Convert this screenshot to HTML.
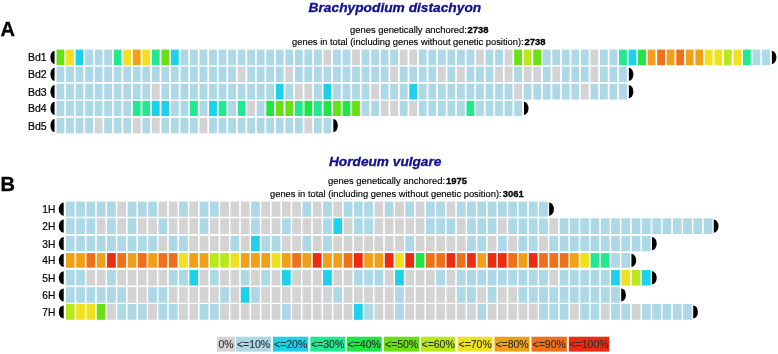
<!DOCTYPE html><html><head><meta charset="utf-8"><title>Figure</title><style>
html,body{margin:0;padding:0;background:#fff}svg{display:block}
text{font-family:"Liberation Sans",Arial,sans-serif;fill:#000}
.t{font-size:13px;font-weight:bold;font-style:italic;fill:#10108c;stroke:#10108c;stroke-width:.3px}
.s{font-size:9.7px;stroke:#000;stroke-width:.15px}.b{font-weight:bold;stroke-width:.3px}
.l{font-size:10.5px;stroke:#000;stroke-width:.2px}.p{font-size:20px;font-weight:bold;stroke:#000;stroke-width:.35px}.g{font-size:10px;fill:#303030;stroke:#303030;stroke-width:.12px}
</style></head><body>
<svg width="778" height="354" viewBox="0 0 778 354">
<rect width="778" height="354" fill="#fff"/>
<text class="p" x="0.6" y="35.7">A</text>
<text class="p" x="0.6" y="191.3">B</text>
<text class="t" x="308.6" y="11.5" textLength="172.6" lengthAdjust="spacingAndGlyphs">Brachypodium distachyon</text>
<text class="s" x="350.0" y="32.7" textLength="116.9" lengthAdjust="spacingAndGlyphs">genes genetically anchored:</text>
<text class="s b" x="467.4" y="32.7" textLength="21.1" lengthAdjust="spacingAndGlyphs">2738</text>
<text class="s" x="292.1" y="45.0" textLength="231.6" lengthAdjust="spacingAndGlyphs">genes in total (including genes without genetic position):</text>
<text class="s b" x="524.4" y="45.0" textLength="21.1" lengthAdjust="spacingAndGlyphs">2738</text>
<text class="s" x="328.1" y="184.3" textLength="116.9" lengthAdjust="spacingAndGlyphs">genes genetically anchored:</text>
<text class="s b" x="446.0" y="184.3" textLength="21.1" lengthAdjust="spacingAndGlyphs">1975</text>
<text class="s" x="270.0" y="197.1" textLength="231.6" lengthAdjust="spacingAndGlyphs">genes in total (including genes without genetic position):</text>
<text class="s b" x="502.8" y="197.1" textLength="21.1" lengthAdjust="spacingAndGlyphs">3061</text>
<text class="t" x="329" y="165.7" textLength="112.4" lengthAdjust="spacingAndGlyphs">Hordeum vulgare</text>
<text class="l" x="46.7" y="61.3" text-anchor="end">Bd1</text>
<path d="M54.55 50.85 A4.1 6.5 0 0 0 54.55 63.95 Z" fill="#000"/>
<rect x="56.55" y="49.60" width="7.80" height="15.60" fill="#66e214"/>
<rect x="66.08" y="49.60" width="7.80" height="15.60" fill="#f0e020"/>
<rect x="75.62" y="49.60" width="7.80" height="15.60" fill="#1cd2ea"/>
<rect x="85.15" y="49.60" width="7.80" height="15.60" fill="#add8e6"/>
<rect x="94.69" y="49.60" width="7.80" height="15.60" fill="#add8e6"/>
<rect x="104.22" y="49.60" width="7.80" height="15.60" fill="#add8e6"/>
<rect x="113.75" y="49.60" width="7.80" height="15.60" fill="#22e890"/>
<rect x="123.29" y="49.60" width="7.80" height="15.60" fill="#f0e020"/>
<rect x="132.82" y="49.60" width="7.80" height="15.60" fill="#f0a018"/>
<rect x="142.36" y="49.60" width="7.80" height="15.60" fill="#f0e020"/>
<rect x="151.89" y="49.60" width="7.80" height="15.60" fill="#22e890"/>
<rect x="161.42" y="49.60" width="7.80" height="15.60" fill="#66e214"/>
<rect x="170.96" y="49.60" width="7.80" height="15.60" fill="#1cd2ea"/>
<rect x="180.49" y="49.60" width="7.80" height="15.60" fill="#add8e6"/>
<rect x="190.03" y="49.60" width="7.80" height="15.60" fill="#add8e6"/>
<rect x="199.56" y="49.60" width="7.80" height="15.60" fill="#add8e6"/>
<rect x="209.09" y="49.60" width="7.80" height="15.60" fill="#add8e6"/>
<rect x="218.63" y="49.60" width="7.80" height="15.60" fill="#add8e6"/>
<rect x="228.16" y="49.60" width="7.80" height="15.60" fill="#add8e6"/>
<rect x="237.70" y="49.60" width="7.80" height="15.60" fill="#add8e6"/>
<rect x="247.23" y="49.60" width="7.80" height="15.60" fill="#add8e6"/>
<rect x="256.76" y="49.60" width="7.80" height="15.60" fill="#add8e6"/>
<rect x="266.30" y="49.60" width="7.80" height="15.60" fill="#add8e6"/>
<rect x="275.83" y="49.60" width="7.80" height="15.60" fill="#add8e6"/>
<rect x="285.37" y="49.60" width="7.80" height="15.60" fill="#add8e6"/>
<rect x="294.90" y="49.60" width="7.80" height="15.60" fill="#add8e6"/>
<rect x="304.43" y="49.60" width="7.80" height="15.60" fill="#add8e6"/>
<rect x="313.97" y="49.60" width="7.80" height="15.60" fill="#add8e6"/>
<rect x="323.50" y="49.60" width="7.80" height="15.60" fill="#d3d3d3"/>
<rect x="333.04" y="49.60" width="7.80" height="15.60" fill="#add8e6"/>
<rect x="342.57" y="49.60" width="7.80" height="15.60" fill="#add8e6"/>
<rect x="352.10" y="49.60" width="7.80" height="15.60" fill="#d3d3d3"/>
<rect x="361.64" y="49.60" width="7.80" height="15.60" fill="#add8e6"/>
<rect x="371.17" y="49.60" width="7.80" height="15.60" fill="#add8e6"/>
<rect x="380.71" y="49.60" width="7.80" height="15.60" fill="#add8e6"/>
<rect x="390.24" y="49.60" width="7.80" height="15.60" fill="#add8e6"/>
<rect x="399.77" y="49.60" width="7.80" height="15.60" fill="#d3d3d3"/>
<rect x="409.31" y="49.60" width="7.80" height="15.60" fill="#d3d3d3"/>
<rect x="418.84" y="49.60" width="7.80" height="15.60" fill="#add8e6"/>
<rect x="428.38" y="49.60" width="7.80" height="15.60" fill="#add8e6"/>
<rect x="437.91" y="49.60" width="7.80" height="15.60" fill="#add8e6"/>
<rect x="447.44" y="49.60" width="7.80" height="15.60" fill="#add8e6"/>
<rect x="456.98" y="49.60" width="7.80" height="15.60" fill="#add8e6"/>
<rect x="466.51" y="49.60" width="7.80" height="15.60" fill="#add8e6"/>
<rect x="476.05" y="49.60" width="7.80" height="15.60" fill="#d3d3d3"/>
<rect x="485.58" y="49.60" width="7.80" height="15.60" fill="#add8e6"/>
<rect x="495.11" y="49.60" width="7.80" height="15.60" fill="#add8e6"/>
<rect x="504.65" y="49.60" width="7.80" height="15.60" fill="#d3d3d3"/>
<rect x="514.18" y="49.60" width="7.80" height="15.60" fill="#66e214"/>
<rect x="523.72" y="49.60" width="7.80" height="15.60" fill="#b8e818"/>
<rect x="533.25" y="49.60" width="7.80" height="15.60" fill="#66e214"/>
<rect x="542.78" y="49.60" width="7.80" height="15.60" fill="#add8e6"/>
<rect x="552.32" y="49.60" width="7.80" height="15.60" fill="#add8e6"/>
<rect x="561.85" y="49.60" width="7.80" height="15.60" fill="#add8e6"/>
<rect x="571.39" y="49.60" width="7.80" height="15.60" fill="#add8e6"/>
<rect x="580.92" y="49.60" width="7.80" height="15.60" fill="#add8e6"/>
<rect x="590.45" y="49.60" width="7.80" height="15.60" fill="#d3d3d3"/>
<rect x="599.99" y="49.60" width="7.80" height="15.60" fill="#add8e6"/>
<rect x="609.52" y="49.60" width="7.80" height="15.60" fill="#add8e6"/>
<rect x="619.06" y="49.60" width="7.80" height="15.60" fill="#22e890"/>
<rect x="628.59" y="49.60" width="7.80" height="15.60" fill="#1cd2ea"/>
<rect x="638.12" y="49.60" width="7.80" height="15.60" fill="#20e644"/>
<rect x="647.66" y="49.60" width="7.80" height="15.60" fill="#f0a018"/>
<rect x="657.19" y="49.60" width="7.80" height="15.60" fill="#ee7018"/>
<rect x="666.73" y="49.60" width="7.80" height="15.60" fill="#f0a018"/>
<rect x="676.26" y="49.60" width="7.80" height="15.60" fill="#ee7018"/>
<rect x="685.79" y="49.60" width="7.80" height="15.60" fill="#f0a018"/>
<rect x="695.33" y="49.60" width="7.80" height="15.60" fill="#f0a018"/>
<rect x="704.86" y="49.60" width="7.80" height="15.60" fill="#f0e020"/>
<rect x="714.40" y="49.60" width="7.80" height="15.60" fill="#f0e020"/>
<rect x="723.93" y="49.60" width="7.80" height="15.60" fill="#b8e818"/>
<rect x="733.46" y="49.60" width="7.80" height="15.60" fill="#f0e020"/>
<rect x="743.00" y="49.60" width="7.80" height="15.60" fill="#22e890"/>
<rect x="752.53" y="49.60" width="7.80" height="15.60" fill="#add8e6"/>
<rect x="762.07" y="49.60" width="7.80" height="15.60" fill="#add8e6"/>
<path d="M771.87 50.85 A4.5 6.5 0 0 1 771.87 63.95 Z" fill="#000"/>
<text class="l" x="46.7" y="78.2" text-anchor="end">Bd2</text>
<path d="M54.55 67.75 A4.1 6.5 0 0 0 54.55 80.85 Z" fill="#000"/>
<rect x="56.55" y="66.60" width="7.80" height="15.40" fill="#add8e6"/>
<rect x="66.08" y="66.60" width="7.80" height="15.40" fill="#add8e6"/>
<rect x="75.62" y="66.60" width="7.80" height="15.40" fill="#add8e6"/>
<rect x="85.15" y="66.60" width="7.80" height="15.40" fill="#add8e6"/>
<rect x="94.69" y="66.60" width="7.80" height="15.40" fill="#add8e6"/>
<rect x="104.22" y="66.60" width="7.80" height="15.40" fill="#add8e6"/>
<rect x="113.75" y="66.60" width="7.80" height="15.40" fill="#add8e6"/>
<rect x="123.29" y="66.60" width="7.80" height="15.40" fill="#add8e6"/>
<rect x="132.82" y="66.60" width="7.80" height="15.40" fill="#add8e6"/>
<rect x="142.36" y="66.60" width="7.80" height="15.40" fill="#add8e6"/>
<rect x="151.89" y="66.60" width="7.80" height="15.40" fill="#add8e6"/>
<rect x="161.42" y="66.60" width="7.80" height="15.40" fill="#add8e6"/>
<rect x="170.96" y="66.60" width="7.80" height="15.40" fill="#add8e6"/>
<rect x="180.49" y="66.60" width="7.80" height="15.40" fill="#add8e6"/>
<rect x="190.03" y="66.60" width="7.80" height="15.40" fill="#add8e6"/>
<rect x="199.56" y="66.60" width="7.80" height="15.40" fill="#add8e6"/>
<rect x="209.09" y="66.60" width="7.80" height="15.40" fill="#add8e6"/>
<rect x="218.63" y="66.60" width="7.80" height="15.40" fill="#add8e6"/>
<rect x="228.16" y="66.60" width="7.80" height="15.40" fill="#add8e6"/>
<rect x="237.70" y="66.60" width="7.80" height="15.40" fill="#d3d3d3"/>
<rect x="247.23" y="66.60" width="7.80" height="15.40" fill="#add8e6"/>
<rect x="256.76" y="66.60" width="7.80" height="15.40" fill="#add8e6"/>
<rect x="266.30" y="66.60" width="7.80" height="15.40" fill="#add8e6"/>
<rect x="275.83" y="66.60" width="7.80" height="15.40" fill="#add8e6"/>
<rect x="285.37" y="66.60" width="7.80" height="15.40" fill="#d3d3d3"/>
<rect x="294.90" y="66.60" width="7.80" height="15.40" fill="#add8e6"/>
<rect x="304.43" y="66.60" width="7.80" height="15.40" fill="#add8e6"/>
<rect x="313.97" y="66.60" width="7.80" height="15.40" fill="#add8e6"/>
<rect x="323.50" y="66.60" width="7.80" height="15.40" fill="#add8e6"/>
<rect x="333.04" y="66.60" width="7.80" height="15.40" fill="#add8e6"/>
<rect x="342.57" y="66.60" width="7.80" height="15.40" fill="#add8e6"/>
<rect x="352.10" y="66.60" width="7.80" height="15.40" fill="#add8e6"/>
<rect x="361.64" y="66.60" width="7.80" height="15.40" fill="#add8e6"/>
<rect x="371.17" y="66.60" width="7.80" height="15.40" fill="#add8e6"/>
<rect x="380.71" y="66.60" width="7.80" height="15.40" fill="#add8e6"/>
<rect x="390.24" y="66.60" width="7.80" height="15.40" fill="#d3d3d3"/>
<rect x="399.77" y="66.60" width="7.80" height="15.40" fill="#add8e6"/>
<rect x="409.31" y="66.60" width="7.80" height="15.40" fill="#add8e6"/>
<rect x="418.84" y="66.60" width="7.80" height="15.40" fill="#add8e6"/>
<rect x="428.38" y="66.60" width="7.80" height="15.40" fill="#add8e6"/>
<rect x="437.91" y="66.60" width="7.80" height="15.40" fill="#d3d3d3"/>
<rect x="447.44" y="66.60" width="7.80" height="15.40" fill="#add8e6"/>
<rect x="456.98" y="66.60" width="7.80" height="15.40" fill="#d3d3d3"/>
<rect x="466.51" y="66.60" width="7.80" height="15.40" fill="#add8e6"/>
<rect x="476.05" y="66.60" width="7.80" height="15.40" fill="#add8e6"/>
<rect x="485.58" y="66.60" width="7.80" height="15.40" fill="#add8e6"/>
<rect x="495.11" y="66.60" width="7.80" height="15.40" fill="#d3d3d3"/>
<rect x="504.65" y="66.60" width="7.80" height="15.40" fill="#d3d3d3"/>
<rect x="514.18" y="66.60" width="7.80" height="15.40" fill="#add8e6"/>
<rect x="523.72" y="66.60" width="7.80" height="15.40" fill="#d3d3d3"/>
<rect x="533.25" y="66.60" width="7.80" height="15.40" fill="#d3d3d3"/>
<rect x="542.78" y="66.60" width="7.80" height="15.40" fill="#add8e6"/>
<rect x="552.32" y="66.60" width="7.80" height="15.40" fill="#d3d3d3"/>
<rect x="561.85" y="66.60" width="7.80" height="15.40" fill="#add8e6"/>
<rect x="571.39" y="66.60" width="7.80" height="15.40" fill="#add8e6"/>
<rect x="580.92" y="66.60" width="7.80" height="15.40" fill="#add8e6"/>
<rect x="590.45" y="66.60" width="7.80" height="15.40" fill="#d3d3d3"/>
<rect x="599.99" y="66.60" width="7.80" height="15.40" fill="#add8e6"/>
<rect x="609.52" y="66.60" width="7.80" height="15.40" fill="#add8e6"/>
<rect x="619.06" y="66.60" width="7.80" height="15.40" fill="#add8e6"/>
<path d="M628.86 67.75 A4.5 6.5 0 0 1 628.86 80.85 Z" fill="#000"/>
<text class="l" x="46.7" y="95.6" text-anchor="end">Bd3</text>
<path d="M54.55 85.10 A4.1 6.5 0 0 0 54.55 98.20 Z" fill="#000"/>
<rect x="56.55" y="83.80" width="7.80" height="15.70" fill="#add8e6"/>
<rect x="66.08" y="83.80" width="7.80" height="15.70" fill="#add8e6"/>
<rect x="75.62" y="83.80" width="7.80" height="15.70" fill="#add8e6"/>
<rect x="85.15" y="83.80" width="7.80" height="15.70" fill="#add8e6"/>
<rect x="94.69" y="83.80" width="7.80" height="15.70" fill="#add8e6"/>
<rect x="104.22" y="83.80" width="7.80" height="15.70" fill="#add8e6"/>
<rect x="113.75" y="83.80" width="7.80" height="15.70" fill="#add8e6"/>
<rect x="123.29" y="83.80" width="7.80" height="15.70" fill="#add8e6"/>
<rect x="132.82" y="83.80" width="7.80" height="15.70" fill="#add8e6"/>
<rect x="142.36" y="83.80" width="7.80" height="15.70" fill="#add8e6"/>
<rect x="151.89" y="83.80" width="7.80" height="15.70" fill="#d3d3d3"/>
<rect x="161.42" y="83.80" width="7.80" height="15.70" fill="#add8e6"/>
<rect x="170.96" y="83.80" width="7.80" height="15.70" fill="#add8e6"/>
<rect x="180.49" y="83.80" width="7.80" height="15.70" fill="#add8e6"/>
<rect x="190.03" y="83.80" width="7.80" height="15.70" fill="#add8e6"/>
<rect x="199.56" y="83.80" width="7.80" height="15.70" fill="#add8e6"/>
<rect x="209.09" y="83.80" width="7.80" height="15.70" fill="#add8e6"/>
<rect x="218.63" y="83.80" width="7.80" height="15.70" fill="#add8e6"/>
<rect x="228.16" y="83.80" width="7.80" height="15.70" fill="#add8e6"/>
<rect x="237.70" y="83.80" width="7.80" height="15.70" fill="#add8e6"/>
<rect x="247.23" y="83.80" width="7.80" height="15.70" fill="#add8e6"/>
<rect x="256.76" y="83.80" width="7.80" height="15.70" fill="#add8e6"/>
<rect x="266.30" y="83.80" width="7.80" height="15.70" fill="#add8e6"/>
<rect x="275.83" y="83.80" width="7.80" height="15.70" fill="#1cd2ea"/>
<rect x="285.37" y="83.80" width="7.80" height="15.70" fill="#add8e6"/>
<rect x="294.90" y="83.80" width="7.80" height="15.70" fill="#d3d3d3"/>
<rect x="304.43" y="83.80" width="7.80" height="15.70" fill="#d3d3d3"/>
<rect x="313.97" y="83.80" width="7.80" height="15.70" fill="#add8e6"/>
<rect x="323.50" y="83.80" width="7.80" height="15.70" fill="#1cd2ea"/>
<rect x="333.04" y="83.80" width="7.80" height="15.70" fill="#add8e6"/>
<rect x="342.57" y="83.80" width="7.80" height="15.70" fill="#add8e6"/>
<rect x="352.10" y="83.80" width="7.80" height="15.70" fill="#add8e6"/>
<rect x="361.64" y="83.80" width="7.80" height="15.70" fill="#add8e6"/>
<rect x="371.17" y="83.80" width="7.80" height="15.70" fill="#d3d3d3"/>
<rect x="380.71" y="83.80" width="7.80" height="15.70" fill="#add8e6"/>
<rect x="390.24" y="83.80" width="7.80" height="15.70" fill="#add8e6"/>
<rect x="399.77" y="83.80" width="7.80" height="15.70" fill="#add8e6"/>
<rect x="409.31" y="83.80" width="7.80" height="15.70" fill="#1cd2ea"/>
<rect x="418.84" y="83.80" width="7.80" height="15.70" fill="#add8e6"/>
<rect x="428.38" y="83.80" width="7.80" height="15.70" fill="#add8e6"/>
<rect x="437.91" y="83.80" width="7.80" height="15.70" fill="#add8e6"/>
<rect x="447.44" y="83.80" width="7.80" height="15.70" fill="#add8e6"/>
<rect x="456.98" y="83.80" width="7.80" height="15.70" fill="#add8e6"/>
<rect x="466.51" y="83.80" width="7.80" height="15.70" fill="#add8e6"/>
<rect x="476.05" y="83.80" width="7.80" height="15.70" fill="#add8e6"/>
<rect x="485.58" y="83.80" width="7.80" height="15.70" fill="#add8e6"/>
<rect x="495.11" y="83.80" width="7.80" height="15.70" fill="#add8e6"/>
<rect x="504.65" y="83.80" width="7.80" height="15.70" fill="#add8e6"/>
<rect x="514.18" y="83.80" width="7.80" height="15.70" fill="#d3d3d3"/>
<rect x="523.72" y="83.80" width="7.80" height="15.70" fill="#add8e6"/>
<rect x="533.25" y="83.80" width="7.80" height="15.70" fill="#add8e6"/>
<rect x="542.78" y="83.80" width="7.80" height="15.70" fill="#add8e6"/>
<rect x="552.32" y="83.80" width="7.80" height="15.70" fill="#add8e6"/>
<rect x="561.85" y="83.80" width="7.80" height="15.70" fill="#add8e6"/>
<rect x="571.39" y="83.80" width="7.80" height="15.70" fill="#add8e6"/>
<rect x="580.92" y="83.80" width="7.80" height="15.70" fill="#d3d3d3"/>
<rect x="590.45" y="83.80" width="7.80" height="15.70" fill="#add8e6"/>
<rect x="599.99" y="83.80" width="7.80" height="15.70" fill="#add8e6"/>
<rect x="609.52" y="83.80" width="7.80" height="15.70" fill="#add8e6"/>
<rect x="619.06" y="83.80" width="7.80" height="15.70" fill="#add8e6"/>
<path d="M628.86 85.10 A4.5 6.5 0 0 1 628.86 98.20 Z" fill="#000"/>
<text class="l" x="46.7" y="112.3" text-anchor="end">Bd4</text>
<path d="M54.55 101.85 A4.1 6.5 0 0 0 54.55 114.95 Z" fill="#000"/>
<rect x="56.55" y="100.80" width="7.80" height="15.20" fill="#add8e6"/>
<rect x="66.08" y="100.80" width="7.80" height="15.20" fill="#add8e6"/>
<rect x="75.62" y="100.80" width="7.80" height="15.20" fill="#add8e6"/>
<rect x="85.15" y="100.80" width="7.80" height="15.20" fill="#add8e6"/>
<rect x="94.69" y="100.80" width="7.80" height="15.20" fill="#add8e6"/>
<rect x="104.22" y="100.80" width="7.80" height="15.20" fill="#add8e6"/>
<rect x="113.75" y="100.80" width="7.80" height="15.20" fill="#add8e6"/>
<rect x="123.29" y="100.80" width="7.80" height="15.20" fill="#add8e6"/>
<rect x="132.82" y="100.80" width="7.80" height="15.20" fill="#22e890"/>
<rect x="142.36" y="100.80" width="7.80" height="15.20" fill="#22e890"/>
<rect x="151.89" y="100.80" width="7.80" height="15.20" fill="#1cd2ea"/>
<rect x="161.42" y="100.80" width="7.80" height="15.20" fill="#1cd2ea"/>
<rect x="170.96" y="100.80" width="7.80" height="15.20" fill="#add8e6"/>
<rect x="180.49" y="100.80" width="7.80" height="15.20" fill="#add8e6"/>
<rect x="190.03" y="100.80" width="7.80" height="15.20" fill="#22e890"/>
<rect x="199.56" y="100.80" width="7.80" height="15.20" fill="#add8e6"/>
<rect x="209.09" y="100.80" width="7.80" height="15.20" fill="#1cd2ea"/>
<rect x="218.63" y="100.80" width="7.80" height="15.20" fill="#22e890"/>
<rect x="228.16" y="100.80" width="7.80" height="15.20" fill="#add8e6"/>
<rect x="237.70" y="100.80" width="7.80" height="15.20" fill="#22e890"/>
<rect x="247.23" y="100.80" width="7.80" height="15.20" fill="#d3d3d3"/>
<rect x="256.76" y="100.80" width="7.80" height="15.20" fill="#add8e6"/>
<rect x="266.30" y="100.80" width="7.80" height="15.20" fill="#20e644"/>
<rect x="275.83" y="100.80" width="7.80" height="15.20" fill="#66e214"/>
<rect x="285.37" y="100.80" width="7.80" height="15.20" fill="#66e214"/>
<rect x="294.90" y="100.80" width="7.80" height="15.20" fill="#22e890"/>
<rect x="304.43" y="100.80" width="7.80" height="15.20" fill="#20e644"/>
<rect x="313.97" y="100.80" width="7.80" height="15.20" fill="#22e890"/>
<rect x="323.50" y="100.80" width="7.80" height="15.20" fill="#20e644"/>
<rect x="333.04" y="100.80" width="7.80" height="15.20" fill="#66e214"/>
<rect x="342.57" y="100.80" width="7.80" height="15.20" fill="#20e644"/>
<rect x="352.10" y="100.80" width="7.80" height="15.20" fill="#66e214"/>
<rect x="361.64" y="100.80" width="7.80" height="15.20" fill="#add8e6"/>
<rect x="371.17" y="100.80" width="7.80" height="15.20" fill="#add8e6"/>
<rect x="380.71" y="100.80" width="7.80" height="15.20" fill="#d3d3d3"/>
<rect x="390.24" y="100.80" width="7.80" height="15.20" fill="#d3d3d3"/>
<rect x="399.77" y="100.80" width="7.80" height="15.20" fill="#add8e6"/>
<rect x="409.31" y="100.80" width="7.80" height="15.20" fill="#d3d3d3"/>
<rect x="418.84" y="100.80" width="7.80" height="15.20" fill="#add8e6"/>
<rect x="428.38" y="100.80" width="7.80" height="15.20" fill="#add8e6"/>
<rect x="437.91" y="100.80" width="7.80" height="15.20" fill="#add8e6"/>
<rect x="447.44" y="100.80" width="7.80" height="15.20" fill="#add8e6"/>
<rect x="456.98" y="100.80" width="7.80" height="15.20" fill="#add8e6"/>
<rect x="466.51" y="100.80" width="7.80" height="15.20" fill="#22e890"/>
<rect x="476.05" y="100.80" width="7.80" height="15.20" fill="#add8e6"/>
<rect x="485.58" y="100.80" width="7.80" height="15.20" fill="#add8e6"/>
<rect x="495.11" y="100.80" width="7.80" height="15.20" fill="#add8e6"/>
<rect x="504.65" y="100.80" width="7.80" height="15.20" fill="#add8e6"/>
<rect x="514.18" y="100.80" width="7.80" height="15.20" fill="#add8e6"/>
<path d="M523.98 101.85 A4.5 6.5 0 0 1 523.98 114.95 Z" fill="#000"/>
<text class="l" x="46.7" y="129.5" text-anchor="end">Bd5</text>
<path d="M54.55 119.03 A4.1 6.5 0 0 0 54.55 132.12 Z" fill="#000"/>
<rect x="56.55" y="117.85" width="7.80" height="15.45" fill="#add8e6"/>
<rect x="66.08" y="117.85" width="7.80" height="15.45" fill="#add8e6"/>
<rect x="75.62" y="117.85" width="7.80" height="15.45" fill="#add8e6"/>
<rect x="85.15" y="117.85" width="7.80" height="15.45" fill="#add8e6"/>
<rect x="94.69" y="117.85" width="7.80" height="15.45" fill="#d3d3d3"/>
<rect x="104.22" y="117.85" width="7.80" height="15.45" fill="#add8e6"/>
<rect x="113.75" y="117.85" width="7.80" height="15.45" fill="#add8e6"/>
<rect x="123.29" y="117.85" width="7.80" height="15.45" fill="#add8e6"/>
<rect x="132.82" y="117.85" width="7.80" height="15.45" fill="#d3d3d3"/>
<rect x="142.36" y="117.85" width="7.80" height="15.45" fill="#add8e6"/>
<rect x="151.89" y="117.85" width="7.80" height="15.45" fill="#d3d3d3"/>
<rect x="161.42" y="117.85" width="7.80" height="15.45" fill="#add8e6"/>
<rect x="170.96" y="117.85" width="7.80" height="15.45" fill="#add8e6"/>
<rect x="180.49" y="117.85" width="7.80" height="15.45" fill="#add8e6"/>
<rect x="190.03" y="117.85" width="7.80" height="15.45" fill="#add8e6"/>
<rect x="199.56" y="117.85" width="7.80" height="15.45" fill="#d3d3d3"/>
<rect x="209.09" y="117.85" width="7.80" height="15.45" fill="#add8e6"/>
<rect x="218.63" y="117.85" width="7.80" height="15.45" fill="#add8e6"/>
<rect x="228.16" y="117.85" width="7.80" height="15.45" fill="#add8e6"/>
<rect x="237.70" y="117.85" width="7.80" height="15.45" fill="#add8e6"/>
<rect x="247.23" y="117.85" width="7.80" height="15.45" fill="#add8e6"/>
<rect x="256.76" y="117.85" width="7.80" height="15.45" fill="#add8e6"/>
<rect x="266.30" y="117.85" width="7.80" height="15.45" fill="#add8e6"/>
<rect x="275.83" y="117.85" width="7.80" height="15.45" fill="#add8e6"/>
<rect x="285.37" y="117.85" width="7.80" height="15.45" fill="#add8e6"/>
<rect x="294.90" y="117.85" width="7.80" height="15.45" fill="#add8e6"/>
<rect x="304.43" y="117.85" width="7.80" height="15.45" fill="#d3d3d3"/>
<rect x="313.97" y="117.85" width="7.80" height="15.45" fill="#add8e6"/>
<rect x="323.50" y="117.85" width="7.80" height="15.45" fill="#add8e6"/>
<path d="M333.30 119.03 A4.5 6.5 0 0 1 333.30 132.12 Z" fill="#000"/>
<text class="l" x="55.3" y="213.0" text-anchor="end" style="font-size:10.2px">1H</text>
<path d="M63.70 202.60 A4.9 6.5 0 0 0 63.70 215.70 Z" fill="#000"/>
<rect x="65.90" y="201.60" width="8.75" height="15.10" fill="#add8e6"/>
<rect x="76.19" y="201.60" width="8.75" height="15.10" fill="#add8e6"/>
<rect x="86.47" y="201.60" width="8.75" height="15.10" fill="#add8e6"/>
<rect x="96.76" y="201.60" width="8.75" height="15.10" fill="#add8e6"/>
<rect x="107.05" y="201.60" width="8.75" height="15.10" fill="#add8e6"/>
<rect x="117.34" y="201.60" width="8.75" height="15.10" fill="#d3d3d3"/>
<rect x="127.62" y="201.60" width="8.75" height="15.10" fill="#add8e6"/>
<rect x="137.91" y="201.60" width="8.75" height="15.10" fill="#add8e6"/>
<rect x="148.20" y="201.60" width="8.75" height="15.10" fill="#add8e6"/>
<rect x="158.48" y="201.60" width="8.75" height="15.10" fill="#d3d3d3"/>
<rect x="168.77" y="201.60" width="8.75" height="15.10" fill="#d3d3d3"/>
<rect x="179.06" y="201.60" width="8.75" height="15.10" fill="#add8e6"/>
<rect x="189.34" y="201.60" width="8.75" height="15.10" fill="#d3d3d3"/>
<rect x="199.63" y="201.60" width="8.75" height="15.10" fill="#add8e6"/>
<rect x="209.92" y="201.60" width="8.75" height="15.10" fill="#add8e6"/>
<rect x="220.21" y="201.60" width="8.75" height="15.10" fill="#d3d3d3"/>
<rect x="230.49" y="201.60" width="8.75" height="15.10" fill="#d3d3d3"/>
<rect x="240.78" y="201.60" width="8.75" height="15.10" fill="#d3d3d3"/>
<rect x="251.07" y="201.60" width="8.75" height="15.10" fill="#add8e6"/>
<rect x="261.35" y="201.60" width="8.75" height="15.10" fill="#d3d3d3"/>
<rect x="271.64" y="201.60" width="8.75" height="15.10" fill="#d3d3d3"/>
<rect x="281.93" y="201.60" width="8.75" height="15.10" fill="#d3d3d3"/>
<rect x="292.21" y="201.60" width="8.75" height="15.10" fill="#d3d3d3"/>
<rect x="302.50" y="201.60" width="8.75" height="15.10" fill="#add8e6"/>
<rect x="312.79" y="201.60" width="8.75" height="15.10" fill="#d3d3d3"/>
<rect x="323.08" y="201.60" width="8.75" height="15.10" fill="#add8e6"/>
<rect x="333.36" y="201.60" width="8.75" height="15.10" fill="#d3d3d3"/>
<rect x="343.65" y="201.60" width="8.75" height="15.10" fill="#add8e6"/>
<rect x="353.94" y="201.60" width="8.75" height="15.10" fill="#add8e6"/>
<rect x="364.22" y="201.60" width="8.75" height="15.10" fill="#add8e6"/>
<rect x="374.51" y="201.60" width="8.75" height="15.10" fill="#d3d3d3"/>
<rect x="384.80" y="201.60" width="8.75" height="15.10" fill="#add8e6"/>
<rect x="395.08" y="201.60" width="8.75" height="15.10" fill="#d3d3d3"/>
<rect x="405.37" y="201.60" width="8.75" height="15.10" fill="#add8e6"/>
<rect x="415.66" y="201.60" width="8.75" height="15.10" fill="#d3d3d3"/>
<rect x="425.95" y="201.60" width="8.75" height="15.10" fill="#add8e6"/>
<rect x="436.23" y="201.60" width="8.75" height="15.10" fill="#add8e6"/>
<rect x="446.52" y="201.60" width="8.75" height="15.10" fill="#d3d3d3"/>
<rect x="456.81" y="201.60" width="8.75" height="15.10" fill="#add8e6"/>
<rect x="467.09" y="201.60" width="8.75" height="15.10" fill="#add8e6"/>
<rect x="477.38" y="201.60" width="8.75" height="15.10" fill="#add8e6"/>
<rect x="487.67" y="201.60" width="8.75" height="15.10" fill="#add8e6"/>
<rect x="497.95" y="201.60" width="8.75" height="15.10" fill="#add8e6"/>
<rect x="508.24" y="201.60" width="8.75" height="15.10" fill="#add8e6"/>
<rect x="518.53" y="201.60" width="8.75" height="15.10" fill="#add8e6"/>
<rect x="528.82" y="201.60" width="8.75" height="15.10" fill="#add8e6"/>
<rect x="539.10" y="201.60" width="8.75" height="15.10" fill="#add8e6"/>
<path d="M549.15 202.60 A4.7 6.5 0 0 1 549.15 215.70 Z" fill="#000"/>
<text class="l" x="55.3" y="230.0" text-anchor="end" style="font-size:10.2px">2H</text>
<path d="M63.70 219.57 A4.9 6.5 0 0 0 63.70 232.68 Z" fill="#000"/>
<rect x="65.90" y="218.30" width="8.75" height="15.65" fill="#add8e6"/>
<rect x="76.19" y="218.30" width="8.75" height="15.65" fill="#add8e6"/>
<rect x="86.47" y="218.30" width="8.75" height="15.65" fill="#add8e6"/>
<rect x="96.76" y="218.30" width="8.75" height="15.65" fill="#d3d3d3"/>
<rect x="107.05" y="218.30" width="8.75" height="15.65" fill="#add8e6"/>
<rect x="117.34" y="218.30" width="8.75" height="15.65" fill="#d3d3d3"/>
<rect x="127.62" y="218.30" width="8.75" height="15.65" fill="#add8e6"/>
<rect x="137.91" y="218.30" width="8.75" height="15.65" fill="#d3d3d3"/>
<rect x="148.20" y="218.30" width="8.75" height="15.65" fill="#d3d3d3"/>
<rect x="158.48" y="218.30" width="8.75" height="15.65" fill="#add8e6"/>
<rect x="168.77" y="218.30" width="8.75" height="15.65" fill="#d3d3d3"/>
<rect x="179.06" y="218.30" width="8.75" height="15.65" fill="#d3d3d3"/>
<rect x="189.34" y="218.30" width="8.75" height="15.65" fill="#d3d3d3"/>
<rect x="199.63" y="218.30" width="8.75" height="15.65" fill="#add8e6"/>
<rect x="209.92" y="218.30" width="8.75" height="15.65" fill="#d3d3d3"/>
<rect x="220.21" y="218.30" width="8.75" height="15.65" fill="#d3d3d3"/>
<rect x="230.49" y="218.30" width="8.75" height="15.65" fill="#d3d3d3"/>
<rect x="240.78" y="218.30" width="8.75" height="15.65" fill="#d3d3d3"/>
<rect x="251.07" y="218.30" width="8.75" height="15.65" fill="#add8e6"/>
<rect x="261.35" y="218.30" width="8.75" height="15.65" fill="#d3d3d3"/>
<rect x="271.64" y="218.30" width="8.75" height="15.65" fill="#d3d3d3"/>
<rect x="281.93" y="218.30" width="8.75" height="15.65" fill="#add8e6"/>
<rect x="292.21" y="218.30" width="8.75" height="15.65" fill="#d3d3d3"/>
<rect x="302.50" y="218.30" width="8.75" height="15.65" fill="#d3d3d3"/>
<rect x="312.79" y="218.30" width="8.75" height="15.65" fill="#d3d3d3"/>
<rect x="323.08" y="218.30" width="8.75" height="15.65" fill="#add8e6"/>
<rect x="333.36" y="218.30" width="8.75" height="15.65" fill="#1cd2ea"/>
<rect x="343.65" y="218.30" width="8.75" height="15.65" fill="#d3d3d3"/>
<rect x="353.94" y="218.30" width="8.75" height="15.65" fill="#add8e6"/>
<rect x="364.22" y="218.30" width="8.75" height="15.65" fill="#add8e6"/>
<rect x="374.51" y="218.30" width="8.75" height="15.65" fill="#d3d3d3"/>
<rect x="384.80" y="218.30" width="8.75" height="15.65" fill="#d3d3d3"/>
<rect x="395.08" y="218.30" width="8.75" height="15.65" fill="#d3d3d3"/>
<rect x="405.37" y="218.30" width="8.75" height="15.65" fill="#d3d3d3"/>
<rect x="415.66" y="218.30" width="8.75" height="15.65" fill="#d3d3d3"/>
<rect x="425.95" y="218.30" width="8.75" height="15.65" fill="#add8e6"/>
<rect x="436.23" y="218.30" width="8.75" height="15.65" fill="#add8e6"/>
<rect x="446.52" y="218.30" width="8.75" height="15.65" fill="#add8e6"/>
<rect x="456.81" y="218.30" width="8.75" height="15.65" fill="#d3d3d3"/>
<rect x="467.09" y="218.30" width="8.75" height="15.65" fill="#add8e6"/>
<rect x="477.38" y="218.30" width="8.75" height="15.65" fill="#add8e6"/>
<rect x="487.67" y="218.30" width="8.75" height="15.65" fill="#add8e6"/>
<rect x="497.95" y="218.30" width="8.75" height="15.65" fill="#d3d3d3"/>
<rect x="508.24" y="218.30" width="8.75" height="15.65" fill="#add8e6"/>
<rect x="518.53" y="218.30" width="8.75" height="15.65" fill="#add8e6"/>
<rect x="528.82" y="218.30" width="8.75" height="15.65" fill="#add8e6"/>
<rect x="539.10" y="218.30" width="8.75" height="15.65" fill="#add8e6"/>
<rect x="549.39" y="218.30" width="8.75" height="15.65" fill="#d3d3d3"/>
<rect x="559.68" y="218.30" width="8.75" height="15.65" fill="#add8e6"/>
<rect x="569.96" y="218.30" width="8.75" height="15.65" fill="#add8e6"/>
<rect x="580.25" y="218.30" width="8.75" height="15.65" fill="#add8e6"/>
<rect x="590.54" y="218.30" width="8.75" height="15.65" fill="#add8e6"/>
<rect x="600.82" y="218.30" width="8.75" height="15.65" fill="#add8e6"/>
<rect x="611.11" y="218.30" width="8.75" height="15.65" fill="#add8e6"/>
<rect x="621.40" y="218.30" width="8.75" height="15.65" fill="#add8e6"/>
<rect x="631.69" y="218.30" width="8.75" height="15.65" fill="#add8e6"/>
<rect x="641.97" y="218.30" width="8.75" height="15.65" fill="#add8e6"/>
<rect x="652.26" y="218.30" width="8.75" height="15.65" fill="#add8e6"/>
<rect x="662.55" y="218.30" width="8.75" height="15.65" fill="#add8e6"/>
<rect x="672.83" y="218.30" width="8.75" height="15.65" fill="#add8e6"/>
<rect x="683.12" y="218.30" width="8.75" height="15.65" fill="#add8e6"/>
<rect x="693.41" y="218.30" width="8.75" height="15.65" fill="#add8e6"/>
<rect x="703.69" y="218.30" width="8.75" height="15.65" fill="#add8e6"/>
<path d="M713.74 219.57 A4.7 6.5 0 0 1 713.74 232.68 Z" fill="#000"/>
<text class="l" x="55.3" y="247.5" text-anchor="end" style="font-size:10.2px">3H</text>
<path d="M63.70 237.05 A4.9 6.5 0 0 0 63.70 250.15 Z" fill="#000"/>
<rect x="65.90" y="235.90" width="8.75" height="15.40" fill="#add8e6"/>
<rect x="76.19" y="235.90" width="8.75" height="15.40" fill="#add8e6"/>
<rect x="86.47" y="235.90" width="8.75" height="15.40" fill="#add8e6"/>
<rect x="96.76" y="235.90" width="8.75" height="15.40" fill="#add8e6"/>
<rect x="107.05" y="235.90" width="8.75" height="15.40" fill="#add8e6"/>
<rect x="117.34" y="235.90" width="8.75" height="15.40" fill="#add8e6"/>
<rect x="127.62" y="235.90" width="8.75" height="15.40" fill="#add8e6"/>
<rect x="137.91" y="235.90" width="8.75" height="15.40" fill="#add8e6"/>
<rect x="148.20" y="235.90" width="8.75" height="15.40" fill="#add8e6"/>
<rect x="158.48" y="235.90" width="8.75" height="15.40" fill="#d3d3d3"/>
<rect x="168.77" y="235.90" width="8.75" height="15.40" fill="#add8e6"/>
<rect x="179.06" y="235.90" width="8.75" height="15.40" fill="#add8e6"/>
<rect x="189.34" y="235.90" width="8.75" height="15.40" fill="#d3d3d3"/>
<rect x="199.63" y="235.90" width="8.75" height="15.40" fill="#d3d3d3"/>
<rect x="209.92" y="235.90" width="8.75" height="15.40" fill="#d3d3d3"/>
<rect x="220.21" y="235.90" width="8.75" height="15.40" fill="#d3d3d3"/>
<rect x="230.49" y="235.90" width="8.75" height="15.40" fill="#add8e6"/>
<rect x="240.78" y="235.90" width="8.75" height="15.40" fill="#d3d3d3"/>
<rect x="251.07" y="235.90" width="8.75" height="15.40" fill="#1cd2ea"/>
<rect x="261.35" y="235.90" width="8.75" height="15.40" fill="#add8e6"/>
<rect x="271.64" y="235.90" width="8.75" height="15.40" fill="#add8e6"/>
<rect x="281.93" y="235.90" width="8.75" height="15.40" fill="#d3d3d3"/>
<rect x="292.21" y="235.90" width="8.75" height="15.40" fill="#d3d3d3"/>
<rect x="302.50" y="235.90" width="8.75" height="15.40" fill="#add8e6"/>
<rect x="312.79" y="235.90" width="8.75" height="15.40" fill="#d3d3d3"/>
<rect x="323.08" y="235.90" width="8.75" height="15.40" fill="#add8e6"/>
<rect x="333.36" y="235.90" width="8.75" height="15.40" fill="#d3d3d3"/>
<rect x="343.65" y="235.90" width="8.75" height="15.40" fill="#d3d3d3"/>
<rect x="353.94" y="235.90" width="8.75" height="15.40" fill="#d3d3d3"/>
<rect x="364.22" y="235.90" width="8.75" height="15.40" fill="#d3d3d3"/>
<rect x="374.51" y="235.90" width="8.75" height="15.40" fill="#d3d3d3"/>
<rect x="384.80" y="235.90" width="8.75" height="15.40" fill="#d3d3d3"/>
<rect x="395.08" y="235.90" width="8.75" height="15.40" fill="#d3d3d3"/>
<rect x="405.37" y="235.90" width="8.75" height="15.40" fill="#add8e6"/>
<rect x="415.66" y="235.90" width="8.75" height="15.40" fill="#d3d3d3"/>
<rect x="425.95" y="235.90" width="8.75" height="15.40" fill="#d3d3d3"/>
<rect x="436.23" y="235.90" width="8.75" height="15.40" fill="#d3d3d3"/>
<rect x="446.52" y="235.90" width="8.75" height="15.40" fill="#d3d3d3"/>
<rect x="456.81" y="235.90" width="8.75" height="15.40" fill="#d3d3d3"/>
<rect x="467.09" y="235.90" width="8.75" height="15.40" fill="#add8e6"/>
<rect x="477.38" y="235.90" width="8.75" height="15.40" fill="#add8e6"/>
<rect x="487.67" y="235.90" width="8.75" height="15.40" fill="#d3d3d3"/>
<rect x="497.95" y="235.90" width="8.75" height="15.40" fill="#add8e6"/>
<rect x="508.24" y="235.90" width="8.75" height="15.40" fill="#d3d3d3"/>
<rect x="518.53" y="235.90" width="8.75" height="15.40" fill="#add8e6"/>
<rect x="528.82" y="235.90" width="8.75" height="15.40" fill="#add8e6"/>
<rect x="539.10" y="235.90" width="8.75" height="15.40" fill="#d3d3d3"/>
<rect x="549.39" y="235.90" width="8.75" height="15.40" fill="#add8e6"/>
<rect x="559.68" y="235.90" width="8.75" height="15.40" fill="#add8e6"/>
<rect x="569.96" y="235.90" width="8.75" height="15.40" fill="#add8e6"/>
<rect x="580.25" y="235.90" width="8.75" height="15.40" fill="#add8e6"/>
<rect x="590.54" y="235.90" width="8.75" height="15.40" fill="#add8e6"/>
<rect x="600.82" y="235.90" width="8.75" height="15.40" fill="#add8e6"/>
<rect x="611.11" y="235.90" width="8.75" height="15.40" fill="#add8e6"/>
<rect x="621.40" y="235.90" width="8.75" height="15.40" fill="#add8e6"/>
<rect x="631.69" y="235.90" width="8.75" height="15.40" fill="#add8e6"/>
<rect x="641.97" y="235.90" width="8.75" height="15.40" fill="#add8e6"/>
<path d="M652.02 237.05 A4.7 6.5 0 0 1 652.02 250.15 Z" fill="#000"/>
<text class="l" x="55.3" y="264.3" text-anchor="end" style="font-size:10.2px">4H</text>
<path d="M63.70 253.85 A4.9 6.5 0 0 0 63.70 266.95 Z" fill="#000"/>
<rect x="65.90" y="253.10" width="8.75" height="14.60" fill="#f0a018"/>
<rect x="76.19" y="253.10" width="8.75" height="14.60" fill="#f0a018"/>
<rect x="86.47" y="253.10" width="8.75" height="14.60" fill="#ee7018"/>
<rect x="96.76" y="253.10" width="8.75" height="14.60" fill="#f0a018"/>
<rect x="107.05" y="253.10" width="8.75" height="14.60" fill="#ec2c10"/>
<rect x="117.34" y="253.10" width="8.75" height="14.60" fill="#ee7018"/>
<rect x="127.62" y="253.10" width="8.75" height="14.60" fill="#f0a018"/>
<rect x="137.91" y="253.10" width="8.75" height="14.60" fill="#ee7018"/>
<rect x="148.20" y="253.10" width="8.75" height="14.60" fill="#f0a018"/>
<rect x="158.48" y="253.10" width="8.75" height="14.60" fill="#ee7018"/>
<rect x="168.77" y="253.10" width="8.75" height="14.60" fill="#ee7018"/>
<rect x="179.06" y="253.10" width="8.75" height="14.60" fill="#f0e020"/>
<rect x="189.34" y="253.10" width="8.75" height="14.60" fill="#f0a018"/>
<rect x="199.63" y="253.10" width="8.75" height="14.60" fill="#f0a018"/>
<rect x="209.92" y="253.10" width="8.75" height="14.60" fill="#b8e818"/>
<rect x="220.21" y="253.10" width="8.75" height="14.60" fill="#b8e818"/>
<rect x="230.49" y="253.10" width="8.75" height="14.60" fill="#f0e020"/>
<rect x="240.78" y="253.10" width="8.75" height="14.60" fill="#f0a018"/>
<rect x="251.07" y="253.10" width="8.75" height="14.60" fill="#f0a018"/>
<rect x="261.35" y="253.10" width="8.75" height="14.60" fill="#f0a018"/>
<rect x="271.64" y="253.10" width="8.75" height="14.60" fill="#f0e020"/>
<rect x="281.93" y="253.10" width="8.75" height="14.60" fill="#f0a018"/>
<rect x="292.21" y="253.10" width="8.75" height="14.60" fill="#ee7018"/>
<rect x="302.50" y="253.10" width="8.75" height="14.60" fill="#f0a018"/>
<rect x="312.79" y="253.10" width="8.75" height="14.60" fill="#ec2c10"/>
<rect x="323.08" y="253.10" width="8.75" height="14.60" fill="#f0a018"/>
<rect x="333.36" y="253.10" width="8.75" height="14.60" fill="#f0a018"/>
<rect x="343.65" y="253.10" width="8.75" height="14.60" fill="#ee7018"/>
<rect x="353.94" y="253.10" width="8.75" height="14.60" fill="#ec2c10"/>
<rect x="364.22" y="253.10" width="8.75" height="14.60" fill="#f0a018"/>
<rect x="374.51" y="253.10" width="8.75" height="14.60" fill="#f0a018"/>
<rect x="384.80" y="253.10" width="8.75" height="14.60" fill="#ec2c10"/>
<rect x="395.08" y="253.10" width="8.75" height="14.60" fill="#f0e020"/>
<rect x="405.37" y="253.10" width="8.75" height="14.60" fill="#ec2c10"/>
<rect x="415.66" y="253.10" width="8.75" height="14.60" fill="#20e644"/>
<rect x="425.95" y="253.10" width="8.75" height="14.60" fill="#ee7018"/>
<rect x="436.23" y="253.10" width="8.75" height="14.60" fill="#ee7018"/>
<rect x="446.52" y="253.10" width="8.75" height="14.60" fill="#ec2c10"/>
<rect x="456.81" y="253.10" width="8.75" height="14.60" fill="#ee7018"/>
<rect x="467.09" y="253.10" width="8.75" height="14.60" fill="#ec2c10"/>
<rect x="477.38" y="253.10" width="8.75" height="14.60" fill="#f0a018"/>
<rect x="487.67" y="253.10" width="8.75" height="14.60" fill="#ec2c10"/>
<rect x="497.95" y="253.10" width="8.75" height="14.60" fill="#ec2c10"/>
<rect x="508.24" y="253.10" width="8.75" height="14.60" fill="#ee7018"/>
<rect x="518.53" y="253.10" width="8.75" height="14.60" fill="#f0a018"/>
<rect x="528.82" y="253.10" width="8.75" height="14.60" fill="#ec2c10"/>
<rect x="539.10" y="253.10" width="8.75" height="14.60" fill="#ee7018"/>
<rect x="549.39" y="253.10" width="8.75" height="14.60" fill="#ee7018"/>
<rect x="559.68" y="253.10" width="8.75" height="14.60" fill="#ee7018"/>
<rect x="569.96" y="253.10" width="8.75" height="14.60" fill="#f0a018"/>
<rect x="580.25" y="253.10" width="8.75" height="14.60" fill="#f0e020"/>
<rect x="590.54" y="253.10" width="8.75" height="14.60" fill="#22e890"/>
<rect x="600.82" y="253.10" width="8.75" height="14.60" fill="#22e890"/>
<rect x="611.11" y="253.10" width="8.75" height="14.60" fill="#add8e6"/>
<rect x="621.40" y="253.10" width="8.75" height="14.60" fill="#add8e6"/>
<path d="M631.45 253.85 A4.7 6.5 0 0 1 631.45 266.95 Z" fill="#000"/>
<text class="l" x="55.3" y="281.7" text-anchor="end" style="font-size:10.2px">5H</text>
<path d="M63.70 271.22 A4.9 6.5 0 0 0 63.70 284.32 Z" fill="#000"/>
<rect x="65.90" y="270.05" width="8.75" height="15.45" fill="#add8e6"/>
<rect x="76.19" y="270.05" width="8.75" height="15.45" fill="#add8e6"/>
<rect x="86.47" y="270.05" width="8.75" height="15.45" fill="#d3d3d3"/>
<rect x="96.76" y="270.05" width="8.75" height="15.45" fill="#d3d3d3"/>
<rect x="107.05" y="270.05" width="8.75" height="15.45" fill="#add8e6"/>
<rect x="117.34" y="270.05" width="8.75" height="15.45" fill="#d3d3d3"/>
<rect x="127.62" y="270.05" width="8.75" height="15.45" fill="#d3d3d3"/>
<rect x="137.91" y="270.05" width="8.75" height="15.45" fill="#d3d3d3"/>
<rect x="148.20" y="270.05" width="8.75" height="15.45" fill="#d3d3d3"/>
<rect x="158.48" y="270.05" width="8.75" height="15.45" fill="#d3d3d3"/>
<rect x="168.77" y="270.05" width="8.75" height="15.45" fill="#add8e6"/>
<rect x="179.06" y="270.05" width="8.75" height="15.45" fill="#add8e6"/>
<rect x="189.34" y="270.05" width="8.75" height="15.45" fill="#1cd2ea"/>
<rect x="199.63" y="270.05" width="8.75" height="15.45" fill="#d3d3d3"/>
<rect x="209.92" y="270.05" width="8.75" height="15.45" fill="#add8e6"/>
<rect x="220.21" y="270.05" width="8.75" height="15.45" fill="#d3d3d3"/>
<rect x="230.49" y="270.05" width="8.75" height="15.45" fill="#d3d3d3"/>
<rect x="240.78" y="270.05" width="8.75" height="15.45" fill="#add8e6"/>
<rect x="251.07" y="270.05" width="8.75" height="15.45" fill="#d3d3d3"/>
<rect x="261.35" y="270.05" width="8.75" height="15.45" fill="#add8e6"/>
<rect x="271.64" y="270.05" width="8.75" height="15.45" fill="#d3d3d3"/>
<rect x="281.93" y="270.05" width="8.75" height="15.45" fill="#1cd2ea"/>
<rect x="292.21" y="270.05" width="8.75" height="15.45" fill="#d3d3d3"/>
<rect x="302.50" y="270.05" width="8.75" height="15.45" fill="#d3d3d3"/>
<rect x="312.79" y="270.05" width="8.75" height="15.45" fill="#d3d3d3"/>
<rect x="323.08" y="270.05" width="8.75" height="15.45" fill="#1cd2ea"/>
<rect x="333.36" y="270.05" width="8.75" height="15.45" fill="#d3d3d3"/>
<rect x="343.65" y="270.05" width="8.75" height="15.45" fill="#d3d3d3"/>
<rect x="353.94" y="270.05" width="8.75" height="15.45" fill="#add8e6"/>
<rect x="364.22" y="270.05" width="8.75" height="15.45" fill="#add8e6"/>
<rect x="374.51" y="270.05" width="8.75" height="15.45" fill="#add8e6"/>
<rect x="384.80" y="270.05" width="8.75" height="15.45" fill="#d3d3d3"/>
<rect x="395.08" y="270.05" width="8.75" height="15.45" fill="#1cd2ea"/>
<rect x="405.37" y="270.05" width="8.75" height="15.45" fill="#d3d3d3"/>
<rect x="415.66" y="270.05" width="8.75" height="15.45" fill="#d3d3d3"/>
<rect x="425.95" y="270.05" width="8.75" height="15.45" fill="#d3d3d3"/>
<rect x="436.23" y="270.05" width="8.75" height="15.45" fill="#add8e6"/>
<rect x="446.52" y="270.05" width="8.75" height="15.45" fill="#d3d3d3"/>
<rect x="456.81" y="270.05" width="8.75" height="15.45" fill="#add8e6"/>
<rect x="467.09" y="270.05" width="8.75" height="15.45" fill="#add8e6"/>
<rect x="477.38" y="270.05" width="8.75" height="15.45" fill="#add8e6"/>
<rect x="487.67" y="270.05" width="8.75" height="15.45" fill="#add8e6"/>
<rect x="497.95" y="270.05" width="8.75" height="15.45" fill="#add8e6"/>
<rect x="508.24" y="270.05" width="8.75" height="15.45" fill="#add8e6"/>
<rect x="518.53" y="270.05" width="8.75" height="15.45" fill="#add8e6"/>
<rect x="528.82" y="270.05" width="8.75" height="15.45" fill="#add8e6"/>
<rect x="539.10" y="270.05" width="8.75" height="15.45" fill="#add8e6"/>
<rect x="549.39" y="270.05" width="8.75" height="15.45" fill="#d3d3d3"/>
<rect x="559.68" y="270.05" width="8.75" height="15.45" fill="#add8e6"/>
<rect x="569.96" y="270.05" width="8.75" height="15.45" fill="#add8e6"/>
<rect x="580.25" y="270.05" width="8.75" height="15.45" fill="#add8e6"/>
<rect x="590.54" y="270.05" width="8.75" height="15.45" fill="#add8e6"/>
<rect x="600.82" y="270.05" width="8.75" height="15.45" fill="#add8e6"/>
<rect x="611.11" y="270.05" width="8.75" height="15.45" fill="#1cd2ea"/>
<rect x="621.40" y="270.05" width="8.75" height="15.45" fill="#f0e020"/>
<rect x="631.69" y="270.05" width="8.75" height="15.45" fill="#b8e818"/>
<rect x="641.97" y="270.05" width="8.75" height="15.45" fill="#1cd2ea"/>
<path d="M652.02 271.22 A4.7 6.5 0 0 1 652.02 284.32 Z" fill="#000"/>
<text class="l" x="55.3" y="298.9" text-anchor="end" style="font-size:10.2px">6H</text>
<path d="M63.70 288.40 A4.9 6.5 0 0 0 63.70 301.50 Z" fill="#000"/>
<rect x="65.90" y="287.10" width="8.75" height="15.70" fill="#add8e6"/>
<rect x="76.19" y="287.10" width="8.75" height="15.70" fill="#add8e6"/>
<rect x="86.47" y="287.10" width="8.75" height="15.70" fill="#add8e6"/>
<rect x="96.76" y="287.10" width="8.75" height="15.70" fill="#add8e6"/>
<rect x="107.05" y="287.10" width="8.75" height="15.70" fill="#add8e6"/>
<rect x="117.34" y="287.10" width="8.75" height="15.70" fill="#add8e6"/>
<rect x="127.62" y="287.10" width="8.75" height="15.70" fill="#d3d3d3"/>
<rect x="137.91" y="287.10" width="8.75" height="15.70" fill="#d3d3d3"/>
<rect x="148.20" y="287.10" width="8.75" height="15.70" fill="#add8e6"/>
<rect x="158.48" y="287.10" width="8.75" height="15.70" fill="#add8e6"/>
<rect x="168.77" y="287.10" width="8.75" height="15.70" fill="#d3d3d3"/>
<rect x="179.06" y="287.10" width="8.75" height="15.70" fill="#d3d3d3"/>
<rect x="189.34" y="287.10" width="8.75" height="15.70" fill="#d3d3d3"/>
<rect x="199.63" y="287.10" width="8.75" height="15.70" fill="#d3d3d3"/>
<rect x="209.92" y="287.10" width="8.75" height="15.70" fill="#d3d3d3"/>
<rect x="220.21" y="287.10" width="8.75" height="15.70" fill="#add8e6"/>
<rect x="230.49" y="287.10" width="8.75" height="15.70" fill="#d3d3d3"/>
<rect x="240.78" y="287.10" width="8.75" height="15.70" fill="#1cd2ea"/>
<rect x="251.07" y="287.10" width="8.75" height="15.70" fill="#add8e6"/>
<rect x="261.35" y="287.10" width="8.75" height="15.70" fill="#d3d3d3"/>
<rect x="271.64" y="287.10" width="8.75" height="15.70" fill="#d3d3d3"/>
<rect x="281.93" y="287.10" width="8.75" height="15.70" fill="#d3d3d3"/>
<rect x="292.21" y="287.10" width="8.75" height="15.70" fill="#d3d3d3"/>
<rect x="302.50" y="287.10" width="8.75" height="15.70" fill="#d3d3d3"/>
<rect x="312.79" y="287.10" width="8.75" height="15.70" fill="#d3d3d3"/>
<rect x="323.08" y="287.10" width="8.75" height="15.70" fill="#d3d3d3"/>
<rect x="333.36" y="287.10" width="8.75" height="15.70" fill="#add8e6"/>
<rect x="343.65" y="287.10" width="8.75" height="15.70" fill="#d3d3d3"/>
<rect x="353.94" y="287.10" width="8.75" height="15.70" fill="#d3d3d3"/>
<rect x="364.22" y="287.10" width="8.75" height="15.70" fill="#d3d3d3"/>
<rect x="374.51" y="287.10" width="8.75" height="15.70" fill="#d3d3d3"/>
<rect x="384.80" y="287.10" width="8.75" height="15.70" fill="#d3d3d3"/>
<rect x="395.08" y="287.10" width="8.75" height="15.70" fill="#add8e6"/>
<rect x="405.37" y="287.10" width="8.75" height="15.70" fill="#d3d3d3"/>
<rect x="415.66" y="287.10" width="8.75" height="15.70" fill="#d3d3d3"/>
<rect x="425.95" y="287.10" width="8.75" height="15.70" fill="#d3d3d3"/>
<rect x="436.23" y="287.10" width="8.75" height="15.70" fill="#d3d3d3"/>
<rect x="446.52" y="287.10" width="8.75" height="15.70" fill="#d3d3d3"/>
<rect x="456.81" y="287.10" width="8.75" height="15.70" fill="#add8e6"/>
<rect x="467.09" y="287.10" width="8.75" height="15.70" fill="#add8e6"/>
<rect x="477.38" y="287.10" width="8.75" height="15.70" fill="#d3d3d3"/>
<rect x="487.67" y="287.10" width="8.75" height="15.70" fill="#add8e6"/>
<rect x="497.95" y="287.10" width="8.75" height="15.70" fill="#d3d3d3"/>
<rect x="508.24" y="287.10" width="8.75" height="15.70" fill="#d3d3d3"/>
<rect x="518.53" y="287.10" width="8.75" height="15.70" fill="#add8e6"/>
<rect x="528.82" y="287.10" width="8.75" height="15.70" fill="#add8e6"/>
<rect x="539.10" y="287.10" width="8.75" height="15.70" fill="#add8e6"/>
<rect x="549.39" y="287.10" width="8.75" height="15.70" fill="#add8e6"/>
<rect x="559.68" y="287.10" width="8.75" height="15.70" fill="#add8e6"/>
<rect x="569.96" y="287.10" width="8.75" height="15.70" fill="#add8e6"/>
<rect x="580.25" y="287.10" width="8.75" height="15.70" fill="#add8e6"/>
<rect x="590.54" y="287.10" width="8.75" height="15.70" fill="#add8e6"/>
<rect x="600.82" y="287.10" width="8.75" height="15.70" fill="#add8e6"/>
<rect x="611.11" y="287.10" width="8.75" height="15.70" fill="#add8e6"/>
<path d="M621.16 288.40 A4.7 6.5 0 0 1 621.16 301.50 Z" fill="#000"/>
<text class="l" x="55.3" y="315.8" text-anchor="end" style="font-size:10.2px">7H</text>
<path d="M63.70 305.38 A4.9 6.5 0 0 0 63.70 318.48 Z" fill="#000"/>
<rect x="65.90" y="304.05" width="8.75" height="15.75" fill="#b8e818"/>
<rect x="76.19" y="304.05" width="8.75" height="15.75" fill="#f0e020"/>
<rect x="86.47" y="304.05" width="8.75" height="15.75" fill="#f0e020"/>
<rect x="96.76" y="304.05" width="8.75" height="15.75" fill="#66e214"/>
<rect x="107.05" y="304.05" width="8.75" height="15.75" fill="#d3d3d3"/>
<rect x="117.34" y="304.05" width="8.75" height="15.75" fill="#add8e6"/>
<rect x="127.62" y="304.05" width="8.75" height="15.75" fill="#add8e6"/>
<rect x="137.91" y="304.05" width="8.75" height="15.75" fill="#add8e6"/>
<rect x="148.20" y="304.05" width="8.75" height="15.75" fill="#d3d3d3"/>
<rect x="158.48" y="304.05" width="8.75" height="15.75" fill="#add8e6"/>
<rect x="168.77" y="304.05" width="8.75" height="15.75" fill="#add8e6"/>
<rect x="179.06" y="304.05" width="8.75" height="15.75" fill="#d3d3d3"/>
<rect x="189.34" y="304.05" width="8.75" height="15.75" fill="#d3d3d3"/>
<rect x="199.63" y="304.05" width="8.75" height="15.75" fill="#add8e6"/>
<rect x="209.92" y="304.05" width="8.75" height="15.75" fill="#add8e6"/>
<rect x="220.21" y="304.05" width="8.75" height="15.75" fill="#d3d3d3"/>
<rect x="230.49" y="304.05" width="8.75" height="15.75" fill="#d3d3d3"/>
<rect x="240.78" y="304.05" width="8.75" height="15.75" fill="#d3d3d3"/>
<rect x="251.07" y="304.05" width="8.75" height="15.75" fill="#d3d3d3"/>
<rect x="261.35" y="304.05" width="8.75" height="15.75" fill="#d3d3d3"/>
<rect x="271.64" y="304.05" width="8.75" height="15.75" fill="#d3d3d3"/>
<rect x="281.93" y="304.05" width="8.75" height="15.75" fill="#add8e6"/>
<rect x="292.21" y="304.05" width="8.75" height="15.75" fill="#d3d3d3"/>
<rect x="302.50" y="304.05" width="8.75" height="15.75" fill="#d3d3d3"/>
<rect x="312.79" y="304.05" width="8.75" height="15.75" fill="#d3d3d3"/>
<rect x="323.08" y="304.05" width="8.75" height="15.75" fill="#d3d3d3"/>
<rect x="333.36" y="304.05" width="8.75" height="15.75" fill="#d3d3d3"/>
<rect x="343.65" y="304.05" width="8.75" height="15.75" fill="#d3d3d3"/>
<rect x="353.94" y="304.05" width="8.75" height="15.75" fill="#1cd2ea"/>
<rect x="364.22" y="304.05" width="8.75" height="15.75" fill="#add8e6"/>
<rect x="374.51" y="304.05" width="8.75" height="15.75" fill="#d3d3d3"/>
<rect x="384.80" y="304.05" width="8.75" height="15.75" fill="#d3d3d3"/>
<rect x="395.08" y="304.05" width="8.75" height="15.75" fill="#add8e6"/>
<rect x="405.37" y="304.05" width="8.75" height="15.75" fill="#d3d3d3"/>
<rect x="415.66" y="304.05" width="8.75" height="15.75" fill="#d3d3d3"/>
<rect x="425.95" y="304.05" width="8.75" height="15.75" fill="#d3d3d3"/>
<rect x="436.23" y="304.05" width="8.75" height="15.75" fill="#d3d3d3"/>
<rect x="446.52" y="304.05" width="8.75" height="15.75" fill="#d3d3d3"/>
<rect x="456.81" y="304.05" width="8.75" height="15.75" fill="#d3d3d3"/>
<rect x="467.09" y="304.05" width="8.75" height="15.75" fill="#d3d3d3"/>
<rect x="477.38" y="304.05" width="8.75" height="15.75" fill="#add8e6"/>
<rect x="487.67" y="304.05" width="8.75" height="15.75" fill="#d3d3d3"/>
<rect x="497.95" y="304.05" width="8.75" height="15.75" fill="#d3d3d3"/>
<rect x="508.24" y="304.05" width="8.75" height="15.75" fill="#d3d3d3"/>
<rect x="518.53" y="304.05" width="8.75" height="15.75" fill="#d3d3d3"/>
<rect x="528.82" y="304.05" width="8.75" height="15.75" fill="#d3d3d3"/>
<rect x="539.10" y="304.05" width="8.75" height="15.75" fill="#add8e6"/>
<rect x="549.39" y="304.05" width="8.75" height="15.75" fill="#add8e6"/>
<rect x="559.68" y="304.05" width="8.75" height="15.75" fill="#add8e6"/>
<rect x="569.96" y="304.05" width="8.75" height="15.75" fill="#d3d3d3"/>
<rect x="580.25" y="304.05" width="8.75" height="15.75" fill="#add8e6"/>
<rect x="590.54" y="304.05" width="8.75" height="15.75" fill="#add8e6"/>
<rect x="600.82" y="304.05" width="8.75" height="15.75" fill="#d3d3d3"/>
<rect x="611.11" y="304.05" width="8.75" height="15.75" fill="#add8e6"/>
<rect x="621.40" y="304.05" width="8.75" height="15.75" fill="#add8e6"/>
<rect x="631.69" y="304.05" width="8.75" height="15.75" fill="#d3d3d3"/>
<rect x="641.97" y="304.05" width="8.75" height="15.75" fill="#add8e6"/>
<rect x="652.26" y="304.05" width="8.75" height="15.75" fill="#add8e6"/>
<rect x="662.55" y="304.05" width="8.75" height="15.75" fill="#add8e6"/>
<rect x="672.83" y="304.05" width="8.75" height="15.75" fill="#add8e6"/>
<rect x="683.12" y="304.05" width="8.75" height="15.75" fill="#add8e6"/>
<path d="M693.17 305.38 A4.7 6.5 0 0 1 693.17 318.48 Z" fill="#000"/>
<rect x="217.2" y="336.7" width="17.8" height="14.9" fill="#d3d3d3"/>
<text class="g" x="218.5" y="347.8" textLength="15.2" lengthAdjust="spacingAndGlyphs">0%</text>
<rect x="236.0" y="336.7" width="35.2" height="14.9" fill="#add8e6"/>
<text class="g" x="236.9" y="347.8" textLength="33.3" lengthAdjust="spacingAndGlyphs">&lt;=10%</text>
<rect x="273.0" y="336.7" width="35.2" height="14.9" fill="#1cd2ea"/>
<text class="g" x="274.0" y="347.8" textLength="33.3" lengthAdjust="spacingAndGlyphs">&lt;=20%</text>
<rect x="310.3" y="336.7" width="34.7" height="14.9" fill="#22e890"/>
<text class="g" x="311.0" y="347.8" textLength="33.3" lengthAdjust="spacingAndGlyphs">&lt;=30%</text>
<rect x="346.8" y="336.7" width="34.9" height="14.9" fill="#20e644"/>
<text class="g" x="347.6" y="347.8" textLength="33.3" lengthAdjust="spacingAndGlyphs">&lt;=40%</text>
<rect x="384.0" y="336.7" width="35.2" height="14.9" fill="#66e214"/>
<text class="g" x="385.0" y="347.8" textLength="33.3" lengthAdjust="spacingAndGlyphs">&lt;=50%</text>
<rect x="420.9" y="336.7" width="34.5" height="14.9" fill="#b8e818"/>
<text class="g" x="421.5" y="347.8" textLength="33.3" lengthAdjust="spacingAndGlyphs">&lt;=60%</text>
<rect x="457.7" y="336.7" width="34.8" height="14.9" fill="#f0e020"/>
<text class="g" x="458.5" y="347.8" textLength="33.3" lengthAdjust="spacingAndGlyphs">&lt;=70%</text>
<rect x="494.5" y="336.7" width="35.0" height="14.9" fill="#f0a018"/>
<text class="g" x="495.4" y="347.8" textLength="33.3" lengthAdjust="spacingAndGlyphs">&lt;=80%</text>
<rect x="531.5" y="336.7" width="35.4" height="14.9" fill="#ee7018"/>
<text class="g" x="532.6" y="347.8" textLength="33.3" lengthAdjust="spacingAndGlyphs">&lt;=90%</text>
<rect x="568.8" y="336.7" width="40.5" height="14.9" fill="#ec2c10"/>
<text class="g" x="569.5" y="347.8" textLength="39.1" lengthAdjust="spacingAndGlyphs">&lt;=100%</text>
</svg></body></html>
